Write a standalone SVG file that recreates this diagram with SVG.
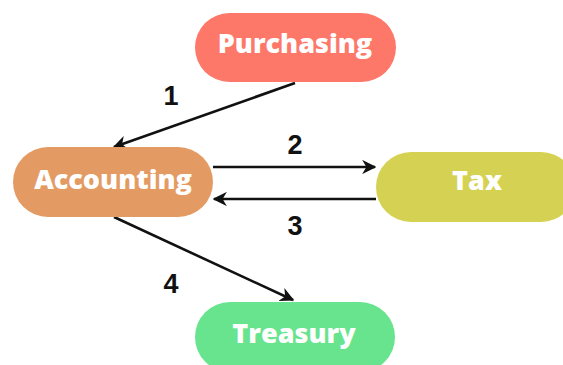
<svg xmlns="http://www.w3.org/2000/svg" width="563" height="365" viewBox="0 0 563 365">
<style>
.lbl{font-family:"Open Sans","Liberation Sans",sans-serif;font-weight:800;fill:#ffffff;text-anchor:middle;font-size:27px}
.num{font-family:"Liberation Sans",Arial,sans-serif;font-weight:700;fill:#111111;font-size:27px;text-anchor:middle}
.edge{stroke:#111111;stroke-width:2.6;fill:none}
</style>
<defs>
<marker id="ah" viewBox="0 0 10 10" refX="9" refY="5" markerWidth="5.5" markerHeight="5.5" orient="auto" markerUnits="strokeWidth">
<path d="M0,0 L10,5 L0,10 L3,5 z" fill="#111111"/>
</marker>
</defs>
<rect width="563" height="365" fill="#ffffff"/>
<g id="connectors">
<line class="edge" x1="295" y1="83" x2="114" y2="147" marker-end="url(#ah)"/>
<line class="edge" x1="213" y1="167" x2="375" y2="167" marker-end="url(#ah)"/>
<line class="edge" x1="376" y1="199" x2="214" y2="199" marker-end="url(#ah)"/>
<line class="edge" x1="114" y1="217" x2="293" y2="300" marker-end="url(#ah)"/>
</g>
<g id="labels">
<text class="num" x="171" y="105">1</text>
<text class="num" x="295" y="154">2</text>
<text class="num" x="295" y="235">3</text>
<text class="num" x="171" y="293">4</text>
</g>
<g id="purchasing">
<rect x="195" y="13" width="201" height="69" rx="34.5" fill="#FE786A"/>
<text class="lbl" x="295" y="53">Purchasing</text>
</g>
<g id="accounting">
<rect x="13" y="147" width="200" height="70" rx="35" fill="#E49B63"/>
<text class="lbl" x="113" y="189">Accounting</text>
</g>
<g id="tax">
<rect x="376" y="152" width="200" height="70" rx="35" fill="#D5D253"/>
<text class="lbl" x="477" y="190">Tax</text>
</g>
<g id="treasury">
<rect x="195" y="302" width="200" height="70" rx="35" fill="#67E48D"/>
<text class="lbl" x="294" y="343">Treasury</text>
</g>
</svg>
